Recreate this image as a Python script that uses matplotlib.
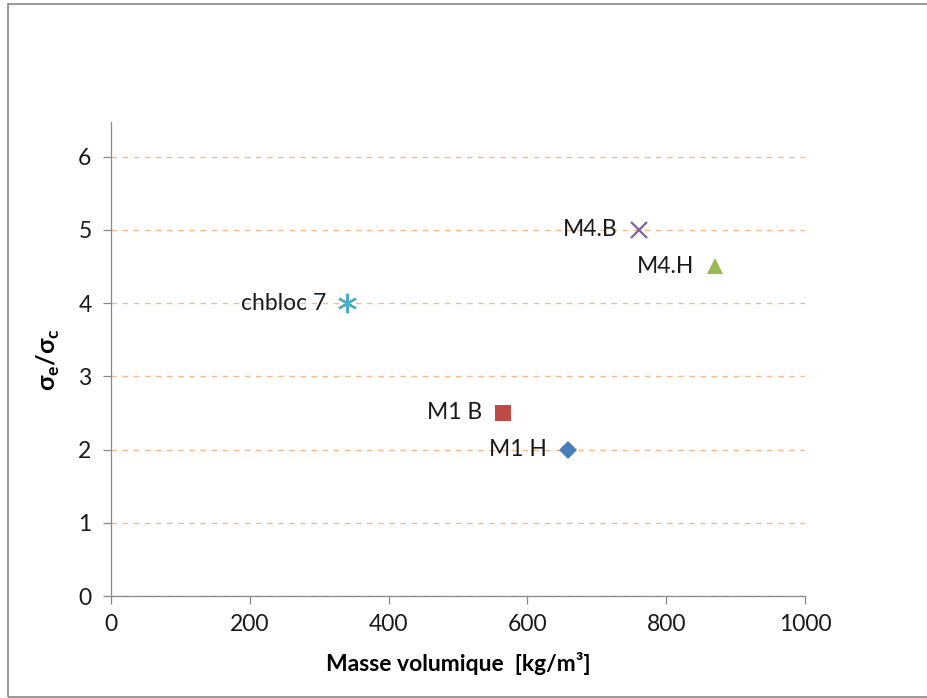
import matplotlib
matplotlib.use("Agg")
import matplotlib.pyplot as plt
from matplotlib.patches import Rectangle

plt.rcParams["font.family"] = ["Lato", "DejaVu Sans"]

# --- Données ---
noms = ["M1 H", "M1 B", "chbloc 7", "M4.B", "M4.H"]
masse_volumique = [658, 565, 340, 760, 870]
rapport = [2.0, 2.5, 4.0, 5.0, 4.5]
marqueurs = ["D", "s", "*", "x", "^"]
couleurs = ["#4a7ebb", "#be4b48", "#4bacc6", "#8064a2", "#98b954"]
tailles = [9, 11, 14, 12, 12]

fig = plt.figure(figsize=(9.28, 6.98), dpi=100)
ax = fig.add_axes([0.1196, 0.1461, 0.748, 0.679])

for x, y, nom, m, c, t in zip(masse_volumique, rapport, noms, marqueurs, couleurs, tailles):
    if m == "*":
        # astérisque à 6 branches façon Excel
        ax.plot(x, y, marker=(6, 2, 0), color=c, markersize=t, markeredgewidth=1.6,
                linestyle="none", zorder=3)
    elif m == "x":
        ax.plot(x, y, marker="x", color=c, markersize=t, markeredgewidth=1.6,
                linestyle="none", zorder=3)
    else:
        ax.plot(x, y, marker=m, color=c, markersize=t, markeredgewidth=0,
                linestyle="none", zorder=3)
    ax.annotate(nom, (x, y), xytext=(-15, 0), textcoords="offset points",
                ha="right", va="center", fontsize=16.5, color="#1a1a1a")

ax.set_xlim(0, 1000)
ax.set_ylim(0, 6.47)
ax.set_xticks(range(0, 1001, 200))
ax.set_yticks(range(0, 7))
ax.yaxis.grid(True, color="#f6b98a", linestyle=(0, (4, 4)), linewidth=1.0, snap=True)
ax.set_axisbelow(True)

for cote in ["top", "right"]:
    ax.spines[cote].set_visible(False)
for cote in ["left", "bottom"]:
    ax.spines[cote].set_color("#888888")
    ax.spines[cote].set_linewidth(0.9)
ax.tick_params(axis="both", colors="#888888", labelcolor="#1a1a1a", labelsize=16.5,
               length=6, width=0.9)
ax.tick_params(axis="x", pad=7)
ax.tick_params(axis="y", pad=8)

ax.set_xlabel("Masse volumique  [kg/m³]", fontsize=16.5, fontweight="bold", labelpad=12)
ax.set_ylabel(r"σ$_\mathregular{e}$/σ$_\mathregular{c}$", fontsize=18, fontweight="bold",
              labelpad=12)

# cadre gris du graphique
fig.patches.append(Rectangle((8 / 928, 1 / 698), 1.2, 1 - 5 / 698,
                             transform=fig.transFigure, fill=False,
                             edgecolor="#888888", linewidth=1.2))

fig.savefig("out.png", dpi=100)
